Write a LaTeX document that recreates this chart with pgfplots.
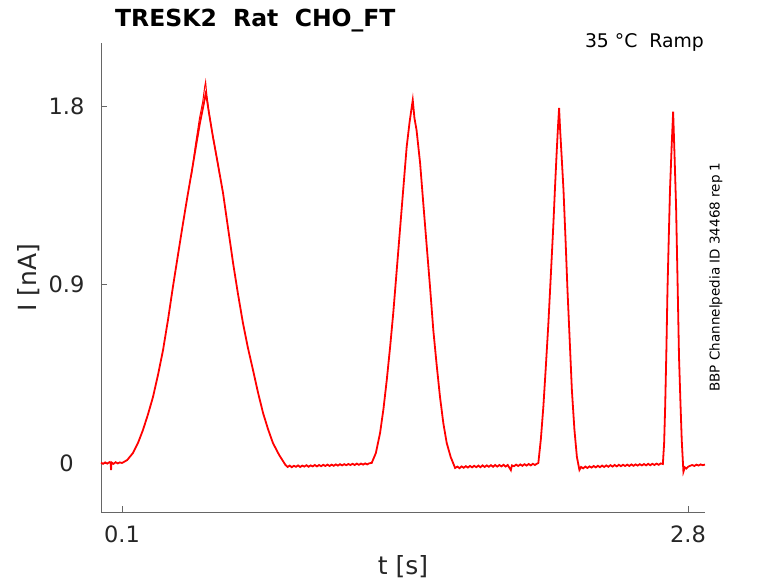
\documentclass[border=0pt]{standalone}
\usepackage{pgfplots}
\pgfplotsset{compat=1.18}
\usepackage{fontspec}
\setmainfont{DejaVu Sans}
\begin{document}
\begin{tikzpicture}
\useasboundingbox (0,0) rectangle (778pt,583pt);
\begin{axis}[
 at={(101pt,71pt)}, anchor=south west,
 scale only axis, width=604pt, height=469pt,
 xmin=0, xmax=2.881, ymin=-0.247, ymax=2.118,
 axis lines*=left,
 axis line style={black!60, line width=0.6pt},
 xtick={0.1,2.8}, ytick={0,0.9,1.8},
 tick align=inside, major tick length=6pt,
 tick style={black!60, line width=0.6pt},
 /pgf/number format/assume math mode=true,
 ticklabel style={font=\fontsize{22.5}{26}\selectfont, text=black!85},
 yticklabel style={anchor=center, xshift=-34.5pt},
 xticklabel style={anchor=center, yshift=-22.5pt},
 xlabel={t [s]}, ylabel={I [nA]},
 xlabel style={at={(axis description cs:0.5,-0.1173)}, anchor=center, font=\fontsize{25}{30}\selectfont, text=black!85},
 ylabel style={at={(axis description cs:-0.1192,0.5)}, anchor=center, font=\fontsize{25}{30}\selectfont, text=black!85},
 clip=false,
]
\addplot[red, line width=1.8pt] coordinates {
(0.000,0.002) (0.010,-0.004) (0.020,0.003) (0.030,-0.003) (0.040,0.004) (0.046,0.000) (0.048,-0.035) (0.050,0.003)
(0.060,-0.004) (0.070,0.004) (0.080,-0.002) (0.090,0.003) (0.100,0.000)
(0.125,0.015) (0.152,0.050) (0.176,0.100) (0.200,0.166) (0.224,0.245) (0.248,0.333) (0.272,0.445)
(0.296,0.570) (0.320,0.725) (0.343,0.888) (0.365,1.035) (0.386,1.175) (0.410,1.330) (0.434,1.477)
(0.455,1.610) (0.472,1.715) (0.490,1.810) (0.499,1.860) (0.505,1.835) (0.515,1.765) (0.534,1.644)
(0.558,1.505) (0.582,1.362) (0.606,1.185) (0.630,1.008) (0.653,0.855) (0.677,0.706) (0.701,0.580)
(0.725,0.469) (0.749,0.355) (0.773,0.252) (0.797,0.170) (0.820,0.101) (0.850,0.040) (0.880,-0.010)
(0.890,-0.020) (0.900,-0.013) (0.910,-0.021) (0.920,-0.014) (0.930,-0.019) (0.940,-0.012) (0.950,-0.020)
(0.960,-0.013) (0.970,-0.018) (0.980,-0.011) (0.990,-0.019) (1.000,-0.012) (1.010,-0.017) (1.020,-0.010)
(1.030,-0.017) (1.040,-0.010) (1.050,-0.016) (1.060,-0.009) (1.070,-0.015) (1.080,-0.008) (1.090,-0.015)
(1.100,-0.008) (1.110,-0.014) (1.120,-0.007) (1.130,-0.013) (1.140,-0.006) (1.150,-0.012) (1.160,-0.006)
(1.170,-0.011) (1.180,-0.005) (1.190,-0.010) (1.200,-0.004) (1.210,-0.010) (1.220,-0.003) (1.230,-0.009)
(1.240,-0.003) (1.250,-0.008) (1.260,-0.002) (1.270,-0.007) (1.280,-0.001) (1.291,0.000)
(1.311,0.050) (1.331,0.151) (1.347,0.270) (1.363,0.418) (1.379,0.585) (1.394,0.756) (1.410,0.965)
(1.426,1.175) (1.442,1.385) (1.458,1.594) (1.472,1.720) (1.487,1.830) (1.495,1.740) (1.505,1.680)
(1.522,1.513) (1.538,1.300) (1.554,1.089) (1.570,0.880) (1.585,0.671) (1.601,0.495) (1.617,0.333)
(1.633,0.200) (1.649,0.101) (1.668,0.030) (1.689,-0.025)
(1.700,-0.018) (1.710,-0.026) (1.720,-0.017) (1.730,-0.024) (1.740,-0.016) (1.750,-0.023) (1.760,-0.015)
(1.770,-0.022) (1.780,-0.014) (1.790,-0.021) (1.800,-0.013) (1.810,-0.021) (1.820,-0.012) (1.830,-0.020)
(1.840,-0.012) (1.850,-0.019) (1.860,-0.011) (1.870,-0.019) (1.880,-0.010) (1.890,-0.018) (1.900,-0.010)
(1.910,-0.017) (1.920,-0.009) (1.930,-0.018) (1.940,-0.010) (1.955,-0.036) (1.960,-0.012) (1.970,-0.016)
(1.980,-0.008) (1.990,-0.015) (2.000,-0.007) (2.010,-0.014) (2.020,-0.006) (2.030,-0.013) (2.040,-0.005)
(2.050,-0.012) (2.060,-0.004) (2.070,-0.010) (2.080,-0.003) (2.086,0.000)
(2.098,0.120) (2.110,0.284) (2.122,0.490) (2.134,0.706) (2.146,0.955) (2.158,1.210) (2.166,1.400)
(2.174,1.578) (2.180,1.700) (2.185,1.790) (2.190,1.680) (2.198,1.530) (2.206,1.377) (2.216,1.120)
(2.225,0.873) (2.236,0.610) (2.246,0.368) (2.258,0.170) (2.270,0.030) (2.282,-0.035)
(2.290,-0.020) (2.300,-0.027) (2.310,-0.018) (2.320,-0.025) (2.330,-0.017) (2.340,-0.023) (2.350,-0.015)
(2.360,-0.022) (2.370,-0.014) (2.380,-0.021) (2.390,-0.013) (2.400,-0.020) (2.410,-0.012) (2.420,-0.019)
(2.430,-0.011) (2.440,-0.018) (2.450,-0.010) (2.460,-0.017) (2.470,-0.009) (2.480,-0.016) (2.490,-0.009)
(2.500,-0.015) (2.510,-0.008) (2.520,-0.015) (2.530,-0.007) (2.540,-0.014) (2.550,-0.007) (2.560,-0.013)
(2.570,-0.006) (2.580,-0.012) (2.590,-0.005) (2.600,-0.012) (2.610,-0.004) (2.620,-0.011) (2.630,-0.004)
(2.640,-0.010) (2.650,-0.003) (2.660,-0.009) (2.670,-0.002) (2.680,-0.005)
(2.686,0.100) (2.691,0.284) (2.697,0.580) (2.702,0.873) (2.708,1.130) (2.714,1.377) (2.722,1.600)
(2.729,1.772) (2.736,1.540) (2.743,1.293) (2.750,0.920) (2.757,0.536) (2.764,0.300) (2.770,0.116)
(2.778,-0.044) (2.785,-0.022) (2.792,-0.028) (2.800,-0.019) (2.810,-0.014) (2.820,-0.010) (2.830,-0.015)
(2.840,-0.008) (2.850,-0.013) (2.860,-0.007) (2.870,-0.011) (2.881,-0.008)
};
\addplot[red, line width=1pt] coordinates {
(0.430,1.440) (0.450,1.600) (0.470,1.740) (0.485,1.820) (0.495,1.900) (0.499,1.923) (0.503,1.875)
(0.512,1.790) (0.525,1.700) (0.545,1.585) (0.565,1.460)
};
\end{axis}
\node[anchor=base west, inner sep=0pt, font=\bfseries\fontsize{23.5}{28}\selectfont] at (115pt,556pt) {TRESK2\ \ Rat\ \ CHO\_FT};
\node[anchor=base east, inner sep=0pt, font=\fontsize{18.8}{22}\selectfont] at (704pt,535pt) {35 °C\ \ Ramp};
\node[rotate=90, font=\fontsize{13.5}{16}\selectfont] at (716pt,306pt) {BBP Channelpedia ID 34468 rep 1};
\end{tikzpicture}
\end{document}
